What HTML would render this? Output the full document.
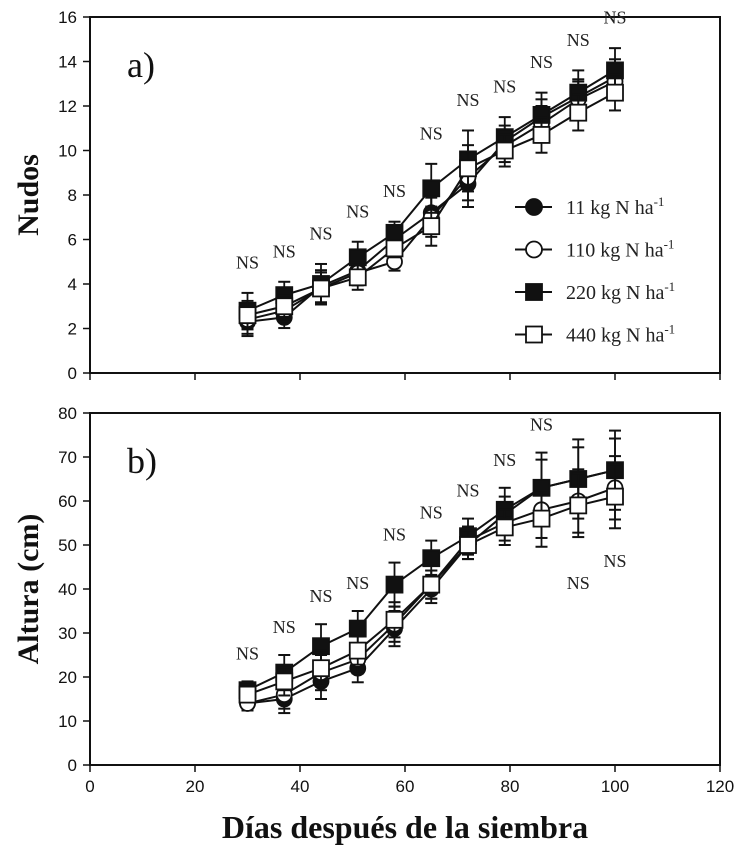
<!DOCTYPE html>
<html><head><meta charset="utf-8"><style>
html,body{margin:0;padding:0;background:#fff}
svg{display:block}
</style></head><body>
<svg id="c" width="743" height="849" xmlns="http://www.w3.org/2000/svg"></svg>
<script>
const days=[30,37,44,51,58,65,72,79,86,93,100];
const nudos11=[2.3,2.5,3.9,4.6,6.0,7.2,8.5,10.4,11.5,12.4,13.3];
const nudos110=[2.4,2.8,3.8,4.5,5.0,7.0,8.8,10.2,11.2,12.3,13.1];
const nudos220=[2.8,3.5,4.0,5.2,6.3,8.3,9.6,10.6,11.6,12.6,13.6];
const nudos440=[2.6,3.0,3.8,4.3,5.6,6.6,9.2,10.0,10.7,11.7,12.6];
const nudosErr=[0.8,0.6,0.9,0.7,0.5,1.1,1.3,0.9,1.0,1.0,1.0];
const altura11=[14,15,19,22,31,40,50,57,63,65,67];
const altura110=[14,16,21,24,32,41,51,55,58,60,63];
const altura220=[17,21,27,31,41,47,52,58,63,65,67];
const altura440=[16,19,22,26,33,41,50,54,56,59,61];
const alturaErr=[2,4,5,4,5,4,4,5,8,9,9];
const xTicks=[0,20,40,60,80,100,120];
const yTicksA=[0,2,4,6,8,10,12,14,16];
const yTicksB=[0,10,20,30,40,50,60,70,80];
const legendLabels=["11 kg N ha","110 kg N ha","220 kg N ha","440 kg N ha"];

const svg=document.getElementById('c');
const NS='http://www.w3.org/2000/svg';
function mk(t,a,p){const e=document.createElementNS(NS,t);for(const k in a)e.setAttribute(k,a[k]);(p||svg).appendChild(e);return e;}
const X=v=>90+v*105/20;
const YA=v=>373-v*22.25;
const YB=v=>765-v*4.4;

function panel(Y,top,bottom,yTicks,series,err,ns,name){
  const g=mk('g',{});
  
  
  mk('rect',{x:90,y:top,width:630,height:bottom-top,fill:'none',stroke:'#111','stroke-width':2},g);
  xTicks.forEach(v=>{const t=mk('line',{x1:X(v),x2:X(v),y1:bottom,y2:bottom+7,stroke:'#111','stroke-width':1.5},g);});
  yTicks.forEach(v=>{mk('line',{x1:83,x2:90,y1:Y(v),y2:Y(v),stroke:'#111','stroke-width':1.5},g);
    const t=mk('text',{x:77,y:Y(v)+6,'text-anchor':'end','font-family':'Liberation Sans, sans-serif','font-size':17,fill:'#111'},g);t.textContent=v;
    });
  const styles=[['circle','#111'],['circle','#fff'],['rect','#111'],['rect','#fff']];
  series.forEach((s,i)=>{
    const sg=mk('g',{},g);
    
    
    mk('polyline',{points:s.map((v,j)=>X(days[j])+','+Y(v)).join(' '),fill:'none',stroke:'#111','stroke-width':2},sg);
    s.forEach((v,j)=>{
      const e=err[j]*(i===2?1:0.8);
      mk('line',{x1:X(days[j]),x2:X(days[j]),y1:Y(v+e),y2:Y(v-e),stroke:'#111','stroke-width':1.8},sg);
      [v+e,v-e].forEach(w=>mk('line',{x1:X(days[j])-6,x2:X(days[j])+6,y1:Y(w),y2:Y(w),stroke:'#111','stroke-width':2},sg));
    });
    s.forEach((v,j)=>{
      let m;
      if(styles[i][0]==='circle') m=mk('circle',{cx:X(days[j]),cy:Y(v),r:7.5,fill:styles[i][1],stroke:'#111','stroke-width':1.8},sg);
      else m=mk('rect',{x:X(days[j])-8,y:Y(v)-8,width:16,height:16,fill:styles[i][1],stroke:'#111','stroke-width':1.8},sg);
      
    });
  });
  ns.forEach((v,j)=>{
    const t=mk('text',{x:X(days[j]),y:Y(v),'text-anchor':'middle','font-family':'Liberation Serif, serif','font-size':18,fill:'#222'},g);
    t.textContent='NS';
  });
}
const nsApos=days.map((d,j)=>Math.max(nudos11[j],nudos110[j],nudos220[j],nudos440[j])+nudosErr[j]+1.1);
panel(YA,17,373,yTicksA,[nudos11,nudos110,nudos220,nudos440],nudosErr,nsApos,'panel-a');
const nsBpos=days.map((d,j)=>j>=9?altura440[j]-alturaErr[j]-7-(j===9?3:0):Math.max(altura11[j],altura110[j],altura220[j],altura440[j])+alturaErr[j]+5);
panel(YB,413,765,yTicksB,[altura11,altura110,altura220,altura440],alturaErr,nsBpos,'panel-b');

xTicks.forEach(v=>{const t=mk('text',{x:X(v),y:792,'text-anchor':'middle','font-family':'Liberation Sans, sans-serif','font-size':17,fill:'#111'});t.textContent=v;
  });

function txt(s,a,name){const t=mk('text',Object.assign({'font-family':'Liberation Serif, serif',fill:'#111'},a));t.textContent=s;return t;}
txt('a)',{x:127,y:77,'font-size':36},'panel-a-label');
txt('b)',{x:127,y:473,'font-size':36},'panel-b-label');
txt('Nudos',{x:0,y:0,'font-size':30,'font-weight':'bold','text-anchor':'middle',transform:'translate(38,195) rotate(-90)'},'y-axis-title-a');
txt('Altura (cm)',{x:0,y:0,'font-size':30,'font-weight':'bold','text-anchor':'middle',transform:'translate(38,589) rotate(-90)'},'y-axis-title-b');
txt('Días después de la siembra',{x:405,y:838,'font-size':32,'font-weight':'bold','text-anchor':'middle'},'x-axis-title');

const lg=mk('g',{});
legendLabels.forEach((l,i)=>{
  const y=207+i*42.5;
  const e=mk('g',{},lg);
  mk('line',{x1:515,x2:552,y1:y,y2:y,stroke:'#111','stroke-width':2},e);
  if(i<2) mk('circle',{cx:534,cy:y,r:8,fill:i===0?'#111':'#fff',stroke:'#111','stroke-width':1.8},e);
  else mk('rect',{x:526,y:y-8,width:16,height:16,fill:i===2?'#111':'#fff',stroke:'#111','stroke-width':1.8},e);
  const t=mk('text',{x:566,y:y+7,'font-family':'Liberation Serif, serif','font-size':20,fill:'#222'},e);
  t.textContent=l;
  const s=mk('tspan',{dy:-8,'font-size':13},t);s.textContent='-1';
});
</script>
</body></html>
